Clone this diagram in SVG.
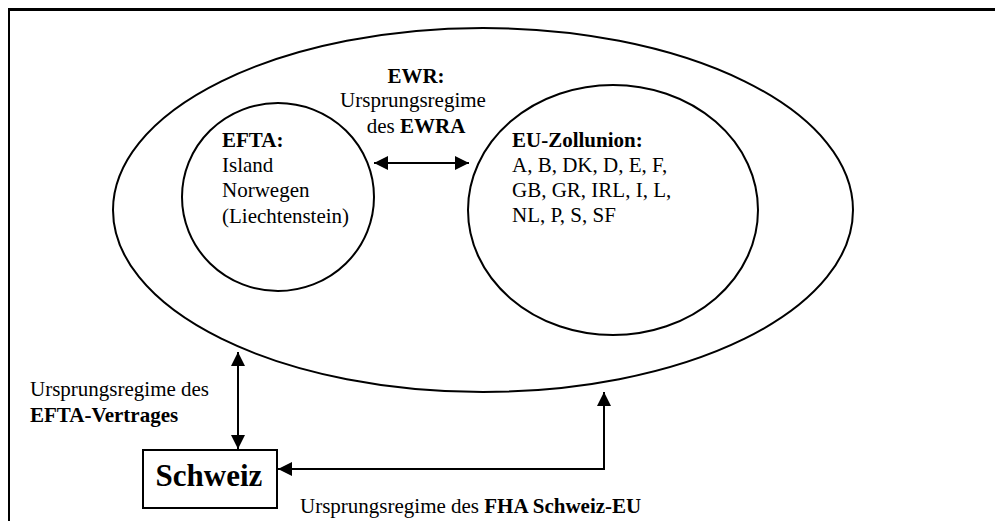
<svg xmlns="http://www.w3.org/2000/svg" width="995" height="521" viewBox="0 0 995 521">
<defs>
<marker id="ah" viewBox="0 0 14 14" refX="14" refY="7" markerWidth="14" markerHeight="14" markerUnits="userSpaceOnUse" orient="auto-start-reverse">
<path d="M0,0 L14,7 L0,14 z" fill="#000"/>
</marker>
<style>
text{font-family:"Liberation Serif","Times New Roman",serif;font-size:21px;fill:#000}
.b{font-weight:bold}
.shape{fill:none;stroke:#000;stroke-width:2}
.conn{fill:none;stroke:#000;stroke-width:2}
</style>
</defs>
<rect width="995" height="521" fill="#fff"/>
<g id="frame">
<line x1="8" y1="9.5" x2="995" y2="9.5" stroke="#000" stroke-width="3"/>
<line x1="9" y1="8" x2="9" y2="521" stroke="#000" stroke-width="2"/>
</g>
<g id="ewr">
<ellipse class="shape" cx="483" cy="210" rx="370" ry="182"/>
<text x="416" y="83" text-anchor="middle" class="b">EWR:</text>
<text x="413" y="107" text-anchor="middle">Ursprungsregime</text>
<text x="416" y="133" text-anchor="middle">des <tspan class="b">EWRA</tspan></text>
</g>
<g id="efta">
<ellipse class="shape" cx="278" cy="197" rx="96" ry="94"/>
<text x="222" y="147" class="b">EFTA:</text>
<text x="222" y="172">Island</text>
<text x="222" y="197">Norwegen</text>
<text x="222" y="223">(Liechtenstein)</text>
</g>
<g id="eu">
<ellipse class="shape" cx="613" cy="210" rx="145" ry="125"/>
<text x="512" y="147" class="b">EU-Zollunion:</text>
<text x="512" y="172">A, B, DK, D, E, F,</text>
<text x="512" y="197">GB, GR, IRL, I, L,</text>
<text x="512" y="222">NL, P, S, SF</text>
</g>
<g id="schweiz">
<rect class="shape" x="143" y="450" width="134" height="58"/>
<text x="209" y="486" text-anchor="middle" class="b" style="font-size:31px">Schweiz</text>
</g>
<g id="connectors">
<line class="conn" x1="374" y1="163" x2="469" y2="163" marker-start="url(#ah)" marker-end="url(#ah)"/>
<line class="conn" x1="238" y1="352" x2="238" y2="449" marker-start="url(#ah)" marker-end="url(#ah)"/>
<polyline class="conn" points="278,469 604,469 604,392" marker-start="url(#ah)" marker-end="url(#ah)"/>
</g>
<g id="labels">
<text x="30" y="396">Ursprungsregime des</text>
<text x="30" y="422" class="b">EFTA-Vertrages</text>
<text x="300" y="513">Ursprungsregime des <tspan class="b">FHA Schweiz-EU</tspan></text>
</g>
</svg>
